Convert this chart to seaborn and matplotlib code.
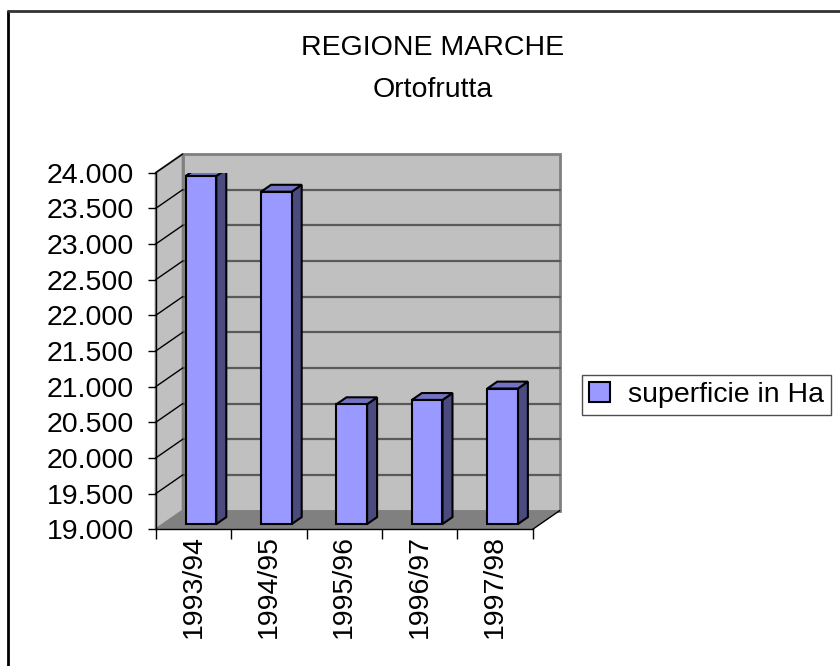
import numpy as np
import pandas as pd
import seaborn as sns
import matplotlib.pyplot as plt
from matplotlib.patches import Polygon, Patch
from matplotlib.lines import Line2D
from matplotlib.ticker import FuncFormatter, FixedLocator

# data
stagioni = ["1993/94", "1994/95", "1995/96", "1996/97", "1997/98"]
superficie = [23880, 23660, 20680, 20740, 20900]
serie = "superficie in Ha"
titolo_1 = "REGIONE MARCHE"
titolo_2 = "Ortofrutta"

y_min, y_max, y_step = 19000, 24000, 500

# fake 3D depth (data units) and bar position inside the box
DX, DY = 0.358, 262
FRONT, DEPTH = 0.28, 0.37

col_front = "#9999ff"
col_top = "#7373c4"
col_side = "#4b4b80"
col_wall = "#c0c0c0"
col_floor = "#808080"


def main():
    sns.set_style("white")
    plt.rcParams["font.family"] = ["Liberation Sans", "DejaVu Sans"]
    plt.rcParams["text.color"] = "black"
    plt.rcParams["xtick.color"] = "black"
    plt.rcParams["ytick.color"] = "black"
    fs = 20.5

    fig = plt.figure(figsize=(8.4, 6.66), dpi=100)
    ax = fig.add_axes([0.1854, 0.2053, 0.4488, 0.5354])

    df = pd.DataFrame({"stagione": stagioni, "superficie": superficie})
    sns.barplot(data=df, x="stagione", y="superficie", width=0.406,
                color=col_front, saturation=1, edgecolor="black",
                linewidth=1.5, zorder=3, ax=ax)

    ax.set_xlim(-0.5, len(stagioni) - 0.5)
    ax.set_ylim(y_min, y_max)
    ax.patch.set_visible(False)
    x_l, x_r = -0.5, len(stagioni) - 0.5

    # walls and floor
    back = Polygon([(x_l + DX, y_min + DY), (x_r + DX, y_min + DY),
                    (x_r + DX, y_max + DY), (x_l + DX, y_max + DY)],
                   closed=True, fc=col_wall, ec="#808080", lw=2,
                   clip_on=False, zorder=0.5)
    left = Polygon([(x_l, y_min), (x_l + DX, y_min + DY),
                    (x_l + DX, y_max + DY), (x_l, y_max)],
                   closed=True, fc=col_wall, ec="#808080", lw=1.5,
                   clip_on=False, zorder=0.5)
    floor = Polygon([(x_l, y_min), (x_r, y_min), (x_r + DX, y_min + DY),
                     (x_l + DX, y_min + DY)],
                    closed=True, fc=col_floor, ec="none",
                    clip_on=False, zorder=0.7)
    for p in (back, left, floor):
        ax.add_patch(p)

    ticks = list(range(y_min, y_max + 1, y_step))
    for v in ticks[1:-1]:
        ax.plot([x_l + DX, x_r + DX], [v + DY, v + DY], color="#5a5a5a",
                lw=1.6, clip_on=False, zorder=0.6)
    for v in ticks[1:]:
        ax.plot([x_l, x_l + DX], [v, v + DY], color="black", lw=1,
                clip_on=False, zorder=0.6)
    ax.plot([x_r, x_r + DX], [y_min, y_min + DY], color="black", lw=1,
            clip_on=False, zorder=0.8)

    # turn flat seaborn bars into boxes; values live in the bar's own plane
    base = y_min + FRONT * DY
    for p in ax.patches:
        if p in (back, left, floor):
            continue
        top = p.get_height() + FRONT * DY
        x0 = p.get_x() + FRONT * DX
        x1 = x0 + p.get_width()
        p.set_x(x0)
        p.set_y(base)
        p.set_height(top - base)
        dx, dy = DEPTH * DX, DEPTH * DY
        side = Polygon([(x1, base), (x1 + dx, base + dy), (x1 + dx, top + dy),
                        (x1, top)], closed=True, fc=col_side, ec="black",
                       lw=1.5, zorder=2.9)
        cap = Polygon([(x0, top), (x1, top), (x1 + dx, top + dy),
                       (x0 + dx, top + dy)], closed=True, fc=col_top,
                      ec="black", lw=1.5, zorder=2.9)
        ax.add_patch(side)
        ax.add_patch(cap)

    # axes
    for s in ("top", "right"):
        ax.spines[s].set_visible(False)
    for s in ("left", "bottom"):
        ax.spines[s].set_color("black")
        ax.spines[s].set_linewidth(1)
        ax.spines[s].set_zorder(5)
    ax.set_yticks(ticks)
    ax.yaxis.set_major_formatter(
        FuncFormatter(lambda v, _: f"{v:,.0f}".replace(",", ".")))
    ax.tick_params(axis="y", length=5.5, width=1, color="black",
                   direction="out", labelsize=fs, pad=10, left=True)
    ax.tick_params(axis="x", which="major", length=0, labelrotation=90,
                   labelsize=fs, pad=4)
    ax.xaxis.set_minor_locator(FixedLocator(np.arange(x_l, x_r + 0.1, 1)))
    ax.tick_params(axis="x", which="minor", length=7, width=1,
                   color="black", direction="out", bottom=True)
    ax.set_xlabel("")
    ax.set_ylabel("")

    fig.text(433 / 840, 1 - 48 / 666, titolo_1, ha="center", va="center",
             fontsize=fs)
    fig.text(433 / 840, 1 - 90 / 666, titolo_2, ha="center", va="center",
             fontsize=fs)

    leg = ax.legend(handles=[Patch(fc=col_front, ec="black", lw=1.5)],
                    labels=[serie], loc="upper left",
                    bbox_to_anchor=(582 / 840, 1 - 375 / 666),
                    bbox_transform=fig.transFigure, fontsize=fs,
                    frameon=True, fancybox=False, shadow=False,
                    handlelength=0.72, handleheight=0.72,
                    handletextpad=0.65, borderpad=0.25, borderaxespad=0)
    leg.get_frame().set_edgecolor("#222222")
    leg.get_frame().set_linewidth(1)

    # chart area border (left and top only visible)
    fig.add_artist(Line2D([8 / 840, 8 / 840], [0, 1 - 11 / 666],
                          transform=fig.transFigure, color="black", lw=2))
    fig.add_artist(Line2D([8 / 840, 1], [1 - 11 / 666, 1 - 11 / 666],
                          transform=fig.transFigure, color="#333333", lw=2))

    fig.savefig("out.png", dpi=100)
    plt.close(fig)


if __name__ == "__main__":
    main()
